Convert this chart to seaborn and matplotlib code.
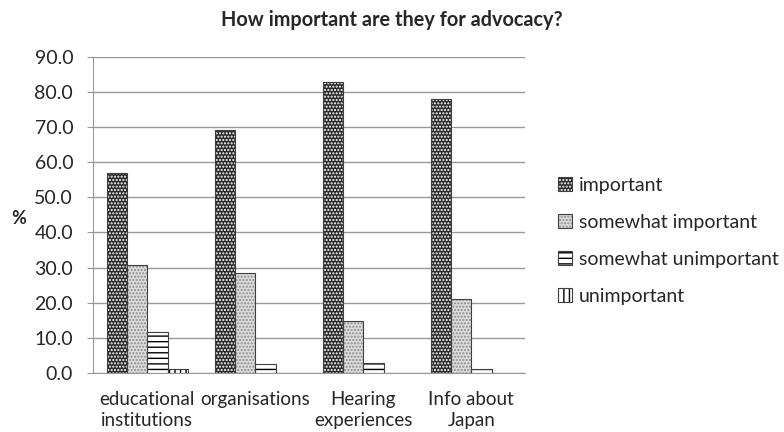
import numpy as np
import pandas as pd
import matplotlib
matplotlib.use("Agg")
import matplotlib.pyplot as plt
import matplotlib.patches as mpatches
from matplotlib.legend_handler import HandlerTuple
import seaborn as sns

# Данные графика
categories = ["educational\ninstitutions", "organisations", "Hearing\nexperiences", "Info about\nJapan"]
levels = ["important", "somewhat important", "somewhat unimportant", "unimportant"]
important = [57.0, 69.2, 82.9, 78.1]
somewhat_important = [30.8, 28.5, 14.8, 21.1]
somewhat_unimportant = [11.7, 2.6, 2.8, 1.0]
unimportant = [1.1, 0.0, 0.0, 0.0]

df = pd.DataFrame({
    "category": categories * 4,
    "level": np.repeat(levels, 4),
    "value": important + somewhat_important + somewhat_unimportant + unimportant,
})

sns.set_style("white")
plt.rcParams["font.family"] = ["Lato", "DejaVu Sans"]
plt.rcParams["hatch.linewidth"] = 1.0

fig = plt.figure(figsize=(7.84, 4.32), dpi=100)
ax = fig.add_axes([0.119, 0.137, 0.551, 0.731])

sns.barplot(data=df, x="category", y="value", hue="level", order=categories,
            hue_order=levels, width=0.75, ax=ax, legend=False)

# стили: заливка, цвет штриховки
styles = {
    "important": ("#2b2b2b", "white", "....."),
    "somewhat important": ("#dcdcdc", "#8a8a8a", "....."),
    "somewhat unimportant": ("white", "black", "---"),
    "unimportant": ("white", "black", "|||"),
}
for container, lev in zip(ax.containers, levels):
    face, hcol, hatch = styles[lev]
    for p in container.patches:
        p.set_facecolor(face)
        p.set_edgecolor(hcol)
        p.set_hatch(hatch)
        p.set_linewidth(0)
        if p.get_height() > 0:
            ax.add_patch(mpatches.Rectangle(p.get_xy(), p.get_width(), p.get_height(),
                                            fill=False, edgecolor="#404040", linewidth=0.8))

ax.set_ylim(0, 90)
ax.set_yticks(np.arange(0, 91, 10))
ax.set_yticklabels([f"{v:.1f}" for v in np.arange(0, 91, 10)], fontsize=14)
ax.set_xticks(range(len(categories)))
ax.set_xticklabels(categories, fontsize=13.5, linespacing=1.3)
ax.tick_params(axis="x", length=0, pad=13)
ax.tick_params(axis="y", length=4.5, color="#999999", direction="out", left=True, pad=10)
ax.grid(axis="y", color="#999999", linewidth=1)
ax.set_axisbelow(True)
for side in ["top", "right"]:
    ax.spines[side].set_visible(False)
ax.spines["left"].set_color("#999999")
ax.spines["bottom"].set_color("#999999")
ax.set_xlabel("")
ax.set_ylabel("%", rotation=0, fontsize=13, fontweight="bold", va="center")
ax.yaxis.set_label_coords(-0.172, 0.49)

# заголовок по центру всей картинки
fig.text(0.5, 1 - 20 / 432, "How important are they for advocacy?", fontsize=14.3,
         fontweight="bold", ha="center", va="center")

handles = []
for lev in levels:
    face, hcol, hatch = styles[lev]
    fill = mpatches.Patch(facecolor=face, edgecolor=hcol, hatch=hatch, linewidth=0)
    outline = mpatches.Patch(fill=False, edgecolor="#404040", linewidth=0.8)
    handles.append((fill, outline))
leg = fig.legend(handles, levels, loc="center left", bbox_to_anchor=(0.69, 0.442),
                 frameon=False, fontsize=14, handlelength=0.7, handleheight=0.7,
                 handletextpad=0.35, labelspacing=1.03,
                 handler_map={tuple: HandlerTuple(ndivide=1)})

fig.savefig("out.png", dpi=100)
